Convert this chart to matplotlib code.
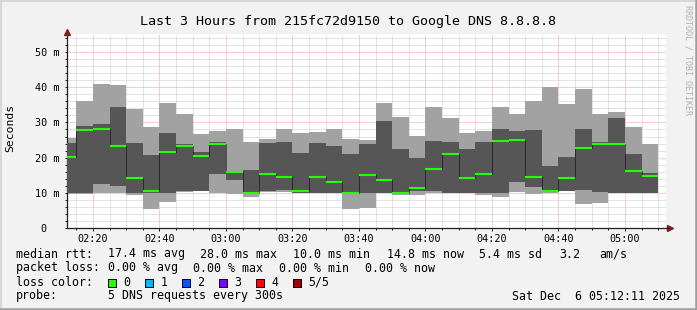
import matplotlib
matplotlib.use("Agg")
import matplotlib.pyplot as plt
from matplotlib.ticker import MultipleLocator
from matplotlib.patches import Rectangle
from matplotlib.lines import Line2D
from matplotlib.transforms import ScaledTranslation
import numpy as np

# ---------------- data (milliseconds) ----------------
bar_starts = ["02:10", "02:15", "02:20", "02:25", "02:30", "02:35", "02:40", "02:45",
              "02:50", "02:55", "03:00", "03:05", "03:10", "03:15", "03:20", "03:25",
              "03:30", "03:35", "03:40", "03:45", "03:50", "03:55", "04:00", "04:05",
              "04:10", "04:15", "04:20", "04:25", "04:30", "04:35", "04:40", "04:45",
              "04:50", "04:55", "05:00", "05:05"]
ping_min = [9.6, 9.8, 10.0, 10.0, 9.5, 5.6, 7.5, 10.4, 10.5, 10.0, 9.6, 9.0,
            10.2, 10.4, 9.9, 9.9, 9.9, 5.6, 5.8, 9.9, 9.5, 9.5, 10.0, 9.9,
            9.9, 9.5, 9.0, 10.4, 9.8, 10.0, 10.7, 6.9, 7.3, 9.9, 9.9, 9.9]
ping_lo = [10.0, 10.0, 12.5, 12.1, 10.0, 10.0, 10.0, 10.6, 10.6, 15.3, 13.8, 10.0,
           10.6, 10.9, 10.0, 10.0, 10.0, 10.0, 10.0, 10.0, 10.0, 10.7, 10.7, 10.0,
           10.0, 10.0, 10.0, 13.2, 11.8, 10.3, 10.7, 10.8, 10.3, 10.0, 10.0, 10.0]
ping_median = [20.2, 27.8, 28.2, 23.4, 14.2, 10.6, 21.7, 23.4, 20.6, 24.0, 16.0, 10.1,
               15.5, 14.5, 10.6, 14.5, 13.2, 10.1, 15.2, 13.8, 10.1, 11.5, 16.8, 21.1,
               14.3, 15.5, 24.7, 25.0, 14.5, 10.6, 14.3, 22.8, 24.0, 24.0, 16.3, 14.9]
ping_hi = [24.3, 29.0, 29.5, 34.3, 24.2, 20.8, 27.0, 23.8, 21.5, 24.4, 16.3, 16.5,
           24.2, 24.4, 21.4, 24.2, 23.3, 21.0, 23.9, 30.4, 22.5, 19.9, 24.7, 24.4,
           22.5, 24.4, 28.1, 27.5, 27.8, 17.6, 20.2, 28.1, 24.4, 31.2, 21.0, 15.7]
ping_max = [25.6, 36.0, 40.8, 40.5, 33.8, 28.7, 35.5, 32.4, 26.7, 27.5, 28.1, 24.4,
            25.3, 28.1, 27.0, 27.3, 28.1, 25.3, 25.0, 35.5, 31.5, 26.1, 34.3, 31.2,
            27.0, 27.5, 34.3, 32.4, 36.0, 40.0, 35.2, 39.4, 32.4, 32.9, 28.7, 24.0]

y_ticks = [0, 10, 20, 30, 40, 50]
y_tick_labels = ["0\u00a0\u00a0", "10 m", "20 m", "30 m", "40 m", "50 m"]
x_tick_labels = ["02:20", "02:40", "03:00", "03:20", "03:40", "04:00", "04:20", "04:40", "05:00"]
view_start = "02:12:11"
view_hours = 3

loss_labels = ["0", "1", "2", "3", "4", "5/5"]
loss_colors = ["#26ff00", "#00b8ff", "#0059ff", "#7e00ff", "#ff0000", "#a10000"]

title = "Last 3 Hours from 215fc72d9150 to Google DNS 8.8.8.8"

# ---------------- helpers ----------------
def to_min(s):
    parts = [int(p) for p in s.split(":")]
    m = parts[0] * 60 + parts[1]
    if len(parts) > 2:
        m += parts[2] / 60.0
    return m

W, H = 697, 310
MONO = "DejaVu Sans Mono"
plt.rcParams["font.family"] = [MONO]

fig = plt.figure(figsize=(W / 100, H / 100), dpi=100)
fig.patch.set_facecolor("#f2f2f2")

def fx(px):
    return px / W

def fy(py):
    return 1 - py / H

left_px, right_px = 67, 665.5
bottom_px, top_px = 228.3, 34.2
ax = fig.add_axes([fx(left_px), fy(bottom_px), (right_px - left_px) / W, (bottom_px - top_px) / H])
ax.set_facecolor("white")

starts = np.array([to_min(s) for s in bar_starts], dtype=float)
mn = np.array(ping_min); lo = np.array(ping_lo); md = np.array(ping_median)
hi = np.array(ping_hi); mx = np.array(ping_max)
width = 5.0

ax.bar(starts, mx - mn, bottom=mn, width=width, align="edge", color="#a2a2a2", linewidth=0, zorder=2)
ax.bar(starts, hi - lo, bottom=lo, width=width, align="edge", color="#565656", linewidth=0, zorder=3)
ax.vlines(starts[1:], md[:-1], md[1:], colors="black", linestyles=(0, (1, 1)), linewidth=0.72, zorder=4)
ax.hlines(md, starts, starts + width, colors="#26ff00", linewidth=1.5, zorder=5)

t0 = to_min(view_start)
ax.set_xlim(t0, t0 + view_hours * 60)
ax.set_ylim(0, 55)

ax.set_xticks([to_min(s) for s in x_tick_labels])
ax.set_xticklabels(x_tick_labels)
ax.xaxis.set_minor_locator(MultipleLocator(5))
ax.set_yticks(y_ticks)
ax.set_yticklabels(y_tick_labels)
ax.yaxis.set_minor_locator(MultipleLocator(2))

ax.set_axisbelow(True)
ax.grid(which="minor", color="#c8c8c8", linestyle=(0, (1, 1)), linewidth=0.72)
ax.grid(which="major", color="#f09c9c", linestyle=(0, (1, 1)), linewidth=0.72)

for s in ["top", "right"]:
    ax.spines[s].set_visible(False)
for s in ["left", "bottom"]:
    ax.spines[s].set_color("#1f1f1f")
    ax.spines[s].set_linewidth(0.9)

ax.tick_params(axis="both", which="both", direction="out", color="#1f1f1f", width=0.72,
               labelsize=7.3, labelcolor="black")
ax.tick_params(axis="y", which="major", length=1.5, pad=4.0)
ax.tick_params(axis="y", which="minor", length=1.5)
ax.tick_params(axis="x", which="major", length=2.2, pad=2.0)
ax.tick_params(axis="x", which="minor", length=1.5)

# axis arrows
arrow_col = "#7f1f1f"
ax.plot([1.0], [0.0], marker=">", markersize=5, color=arrow_col, clip_on=False, zorder=10,
        transform=ax.transAxes + ScaledTranslation(4.5 / 100, 0, fig.dpi_scale_trans))
ax.plot([0.0], [1.0], marker="^", markersize=5, color=arrow_col, clip_on=False, zorder=10,
        transform=ax.transAxes + ScaledTranslation(0, 2.5 / 100, fig.dpi_scale_trans))
fig.add_artist(Line2D([fx(right_px), fx(669)], [fy(bottom_px), fy(bottom_px)], color="#1f1f1f", lw=0.9))

# title, labels
fig.text(0.5, fy(24.5), title, ha="center", va="baseline", fontsize=9.6, family=MONO)
fig.text(fx(10.5), fy(128), "Seconds", ha="center", va="center", rotation=90, fontsize=8.2, family=MONO)
fig.text(fx(688), fy(5), "RRDTOOL / TOBI OETIKER", ha="center", va="top", rotation=-90,
         fontsize=6.0, color="#b0b0b0", family=MONO)

# legend text
LF = 8.4
def lt(x, y, s, **kw):
    fig.text(fx(x), fy(y), s, ha=kw.pop("ha", "left"), va="baseline", fontsize=LF, family=MONO, **kw)

y1, y2, y3, y4 = 257.5, 271.5, 285.5, 299.5
lt(16, y1, "median rtt:")
lt(107.7, y1, "17.4 ms avg")
lt(200, y1, "28.0 ms max")
lt(293.3, y1, "10.0 ms min")
lt(386.7, y1, "14.8 ms now")
lt(479, y1, "5.4 ms sd")
lt(559.3, y1, "3.2")
lt(599.3, y1, "am/s")

lt(16, y2, "packet loss:")
lt(107.7, y2, "0.00 % avg")
lt(193.3, y2, "0.00 % max")
lt(279.3, y2, "0.00 % min")
lt(365, y2, "0.00 % now")

lt(16, y3, "loss color:")
for i, (lab, col) in enumerate(zip(loss_labels, loss_colors)):
    xs = 108.3 + 37 * i
    fig.add_artist(Rectangle((fx(xs), fy(286.5)), 7.5 / W, 7.5 / H, transform=fig.transFigure,
                             facecolor=col, edgecolor="black", linewidth=0.72))
    lt(xs + 15, y3, lab)

lt(16, y4, "probe:")
lt(107.7, y4, "5 DNS requests every 300s")
lt(680, y4, "Sat Dec  6 05:12:11 2025", ha="right")

# 3D frame
fig.add_artist(Line2D([0, 1], [fy(0.75), fy(0.75)], color="#cfcfcf", lw=1.1, transform=fig.transFigure))
fig.add_artist(Line2D([fx(0.75), fx(0.75)], [0, 1], color="#cfcfcf", lw=1.1, transform=fig.transFigure))
fig.add_artist(Line2D([0, 1], [fy(H - 1.25), fy(H - 1.25)], color="#9e9e9e", lw=1.8, transform=fig.transFigure))
fig.add_artist(Line2D([fx(W - 1.25), fx(W - 1.25)], [0, 1], color="#9e9e9e", lw=1.8, transform=fig.transFigure))

fig.savefig("out.png", dpi=100, facecolor=fig.get_facecolor())
